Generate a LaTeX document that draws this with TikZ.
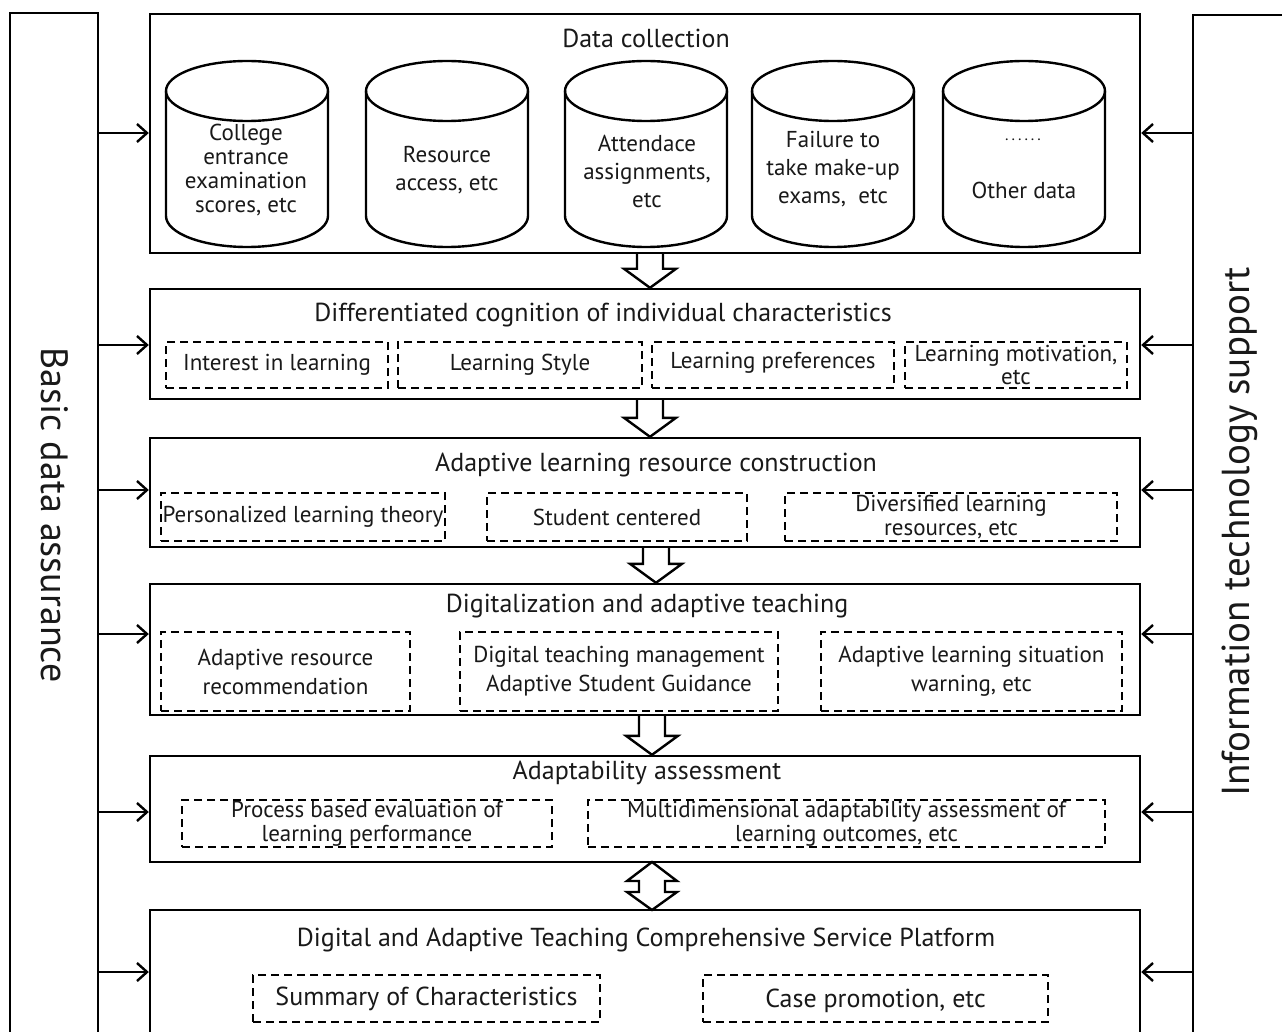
\documentclass[tikz,border=0pt]{standalone}
\usepackage{fontspec}
\setmainfont{PT Sans}
\usetikzlibrary{arrows.meta,calc}
\begin{document}
\begin{tikzpicture}[x=1pt,y=1pt,
  frame/.style={draw, line width=2.4pt, inner sep=0pt},
  dbox/.style={draw, dash pattern=on 8pt off 5pt, line width=2pt, inner sep=0pt},
  ttl/.style={font=\fontsize{26}{30}\selectfont, inner sep=0pt, text=black!90},
  txt/.style={align=center, font=\fontsize{23}{28}\selectfont, inner sep=0pt, text=black!90},
  conn/.style={line width=2.4pt, -{Straight Barb[length=10pt,width=18pt,line width=2.4pt]}},
  blk/.style={draw, line width=2.4pt, fill=white, line join=miter},
  cyl/.style={line width=2.4pt}
]
\useasboundingbox (0,0) rectangle (1282,-1032);
\clip (0,0) rectangle (1282,-1032);
\fill[white] (0,0) rectangle (1282,-1032);

% side bars
\node[frame, minimum width=88pt, minimum height=1037pt] (lbar) at (54,-531.5) {};
\node[frame, minimum width=107pt, minimum height=1035pt] (rbar) at (1246.5,-532.5) {};
\node[txt, font=\fontsize{38}{42}\selectfont, rotate=-90] (ltxt) at (55,-515) {Basic data assurance};
\node[txt, font=\fontsize{39}{42}\selectfont, rotate=90] (rtxt) at (1240,-532) {Information technology support};

% main boxes
\node[frame, minimum width=990pt, minimum height=239pt] (b1) at (645,-133.5) {};
\node[frame, minimum width=990pt, minimum height=110pt] (b2) at (645,-344) {};
\node[frame, minimum width=990pt, minimum height=109pt] (b3) at (645,-492.5) {};
\node[frame, minimum width=990pt, minimum height=131pt] (b4) at (645,-649.5) {};
\node[frame, minimum width=990pt, minimum height=106pt] (b5) at (645,-809) {};
\node[frame, minimum width=990pt, minimum height=140pt] (b6) at (645,-980) {};

% titles
\node[ttl] (t1) at (646,-38) {Data collection};
\node[ttl] (t2) at (603,-315) {Differentiated cognition of individual characteristics};
\node[ttl] (t3) at (656,-465) {Adaptive learning resource construction};
\node[ttl] (t4) at (647,-606) {Digitalization and adaptive teaching};
\node[ttl] (t5) at (647,-773) {Adaptability assessment};
\node[ttl] (t6) at (646,-940) {Digital and Adaptive Teaching Comprehensive Service Platform};

% cylinders
\foreach \cx in {247,447,646,833,1024}{
  \draw[cyl] (\cx-81,-91) -- (\cx-81,-216) arc[start angle=180,end angle=360,x radius=81,y radius=31] -- (\cx+81,-91);
  \draw[cyl] (\cx,-91) ellipse[x radius=81,y radius=30];
}
\node[txt, font=\fontsize{23}{24}\selectfont] (c1) at (246,-170) {College\\entrance\\examination\\scores, etc};
\node[txt] (c2) at (447,-170) {Resource\\access, etc};
\node[txt] (c3) at (647,-171) {Attendace\\assignments,\\etc};
\node[txt] (c4) at (833,-169) {Failure to\\take make-up\\exams,\ \ etc};
\node[txt, font=\fontsize{16}{18}\selectfont] (c5a) at (1023,-140) {.\kern3pt.\kern3pt.\kern3pt.\kern3pt.\kern3pt.};
\node[txt] (c5) at (1024,-190) {Other data};

% dashed boxes row 2
\node[dbox, minimum width=222pt, minimum height=46pt] (d21) at (277,-365) {};
\node[dbox, minimum width=244pt, minimum height=46pt] (d22) at (520,-365) {};
\node[dbox, minimum width=242pt, minimum height=46pt] (d23) at (773,-365) {};
\node[dbox, minimum width=222pt, minimum height=46pt] (d24) at (1016,-365) {};
\node[txt] at (d21) {Interest in learning};
\node[txt] at (d22) {Learning Style};
\node[txt] at ($(d23)+(0,2)$) {Learning preferences};
\node[txt, font=\fontsize{23}{23}\selectfont] at (d24) {Learning motivation,\\etc};

% row 3
\node[dbox, minimum width=284pt, minimum height=48pt] (d31) at (303,-517) {};
\node[dbox, minimum width=260pt, minimum height=48pt] (d32) at (617,-517) {};
\node[dbox, minimum width=332pt, minimum height=48pt] (d33) at (951,-517) {};
\node[txt] at (d31) {Personalized learning theory};
\node[txt] at (d32) {Student centered};
\node[txt, font=\fontsize{23}{24}\selectfont] at (d33) {Diversified learning\\resources, etc};

% row 4
\node[dbox, minimum width=249pt, minimum height=79pt] (d41) at (285.5,-671.5) {};
\node[dbox, minimum width=318pt, minimum height=79pt] (d42) at (619,-671.5) {};
\node[dbox, minimum width=301pt, minimum height=79pt] (d43) at (971.5,-671.5) {};
\node[txt, font=\fontsize{23}{29}\selectfont] at (d41) {Adaptive resource\\recommendation};
\node[txt, font=\fontsize{23}{29}\selectfont] at (d42) {Digital teaching management\\Adaptive Student Guidance};
\node[txt, font=\fontsize{23}{29}\selectfont] at (d43) {Adaptive learning situation\\warning, etc};

% row 5
\node[dbox, minimum width=370pt, minimum height=47pt] (d51) at (367,-823.5) {};
\node[dbox, minimum width=517pt, minimum height=47pt] (d52) at (846.5,-823.5) {};
\node[txt, font=\fontsize{23}{24}\selectfont] at (d51) {Process based evaluation of\\learning performance};
\node[txt, font=\fontsize{23}{24}\selectfont] at (d52) {Multidimensional adaptability assessment of\\learning outcomes, etc};

% row 6
\node[dbox, minimum width=347pt, minimum height=47pt] (d61) at (426.5,-998.5) {};
\node[dbox, minimum width=345pt, minimum height=47pt] (d62) at (875.5,-998.5) {};
\node[txt, font=\fontsize{26}{30}\selectfont] at (d61) {Summary of Characteristics};
\node[txt, font=\fontsize{26}{30}\selectfont] at ($(d62)+(0,-2)$) {Case promotion, etc};

% side connectors
\foreach \b/\yy in {b1/133,b2/345,b3/490,b4/634,b5/812,b6/972}{
  \coordinate (L\b) at (98,-\yy);
  \coordinate (R\b) at (1193,-\yy);
  \draw[conn] (lbar.east |- L\b) -- (\b.west |- L\b);
  \draw[conn] (rbar.west |- R\b) -- (\b.east |- R\b);
}

% block arrows
\foreach \ba/\bb/\cx in {b1/b2/650,b2/b3/650,b3/b4/656,b4/b5/652}{
  \path (\ba.south) ++(0,0) coordinate (top) (\bb.north) coordinate (bot);
  \draw[blk] (\cx-13,0 |- top) -- (\cx-13,0 |- {$(bot)+(0,19)$}) -- (\cx-26,0 |- {$(bot)+(0,19)$}) -- (\cx,0 |- bot)
     -- (\cx+26,0 |- {$(bot)+(0,19)$}) -- (\cx+13,0 |- {$(bot)+(0,19)$}) -- (\cx+13,0 |- top);
}
% double arrow
\draw[blk] (652,-862) -- (677,-881) -- (665,-881) -- (665,-892) -- (677,-892) -- (652,-910)
  -- (627,-892) -- (639,-892) -- (639,-881) -- (627,-881) -- cycle;

\end{tikzpicture}
\end{document}
